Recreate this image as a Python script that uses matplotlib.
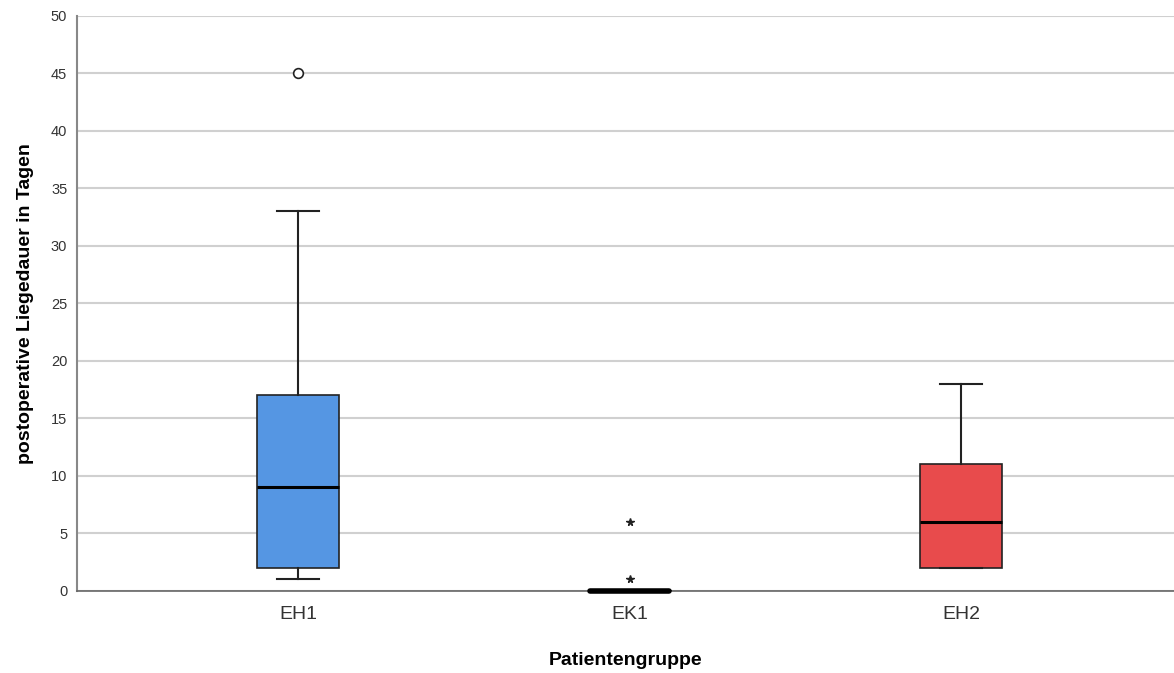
import numpy as np
import matplotlib.pyplot as plt

plt.rcParams['font.family'] = ['Liberation Sans', 'DejaVu Sans']

groups = ["EH1", "EK1", "EH2"]
whisker_low = [1, 0, 2]
q1 = [2, 0, 2]
medians = [9, 0, 6]
q3 = [17, 0, 11]
whisker_high = [33, 0, 18]
outliers = [[45], [], []]        # drawn as circles
extremes = [[], [1, 6], []]      # drawn as stars
box_colors = ["#5596e3", "#ffffff", "#e84b4c"]

stats = []
for i, g in enumerate(groups):
    stats.append(dict(label=g, whislo=whisker_low[i], q1=q1[i], med=medians[i],
                      q3=q3[i], whishi=whisker_high[i], fliers=[]))

fig = plt.figure(figsize=(11.74, 6.73), dpi=100)
ax = fig.add_axes([77 / 1174, 82 / 673, 1 - 77 / 1174, (591 - 15.7) / 673])

pos = np.arange(len(groups))
bp = ax.bxp(stats, positions=pos, widths=0.25, patch_artist=True, showfliers=False,
            boxprops=dict(edgecolor="#222222", linewidth=1.2),
            whiskerprops=dict(color="#222222", linewidth=1.5),
            capprops=dict(color="#222222", linewidth=1.5),
            medianprops=dict(color="black", linewidth=2.2),
            capwidths=0.125, zorder=3)
for patch, c in zip(bp['boxes'], box_colors):
    patch.set_facecolor(c)

# collapsed box for EK1 is just a thick bar at zero
ax.plot([pos[1] - 0.12, pos[1] + 0.12], [medians[1], medians[1]], color="black",
        linewidth=4, solid_capstyle="round", zorder=6, clip_on=False)

for i in range(len(groups)):
    if outliers[i]:
        ax.plot([pos[i]] * len(outliers[i]), outliers[i], linestyle="none", marker="o",
                markersize=7, markerfacecolor="white", markeredgecolor="#222222",
                markeredgewidth=1.2, zorder=4)
    if extremes[i]:
        ax.plot([pos[i]] * len(extremes[i]), extremes[i], linestyle="none", marker="*",
                markersize=5.5, color="#222222", zorder=4)

ax.set_xlim(-221 / 331.5, 2 + 213 / 331.5)
ax.set_ylim(0, 50)
ax.set_yticks(np.arange(0, 51, 5))
ax.yaxis.grid(True, color="#d0d0d0", linewidth=1.5)
ax.set_axisbelow(True)

for s in ["top", "right"]:
    ax.spines[s].set_visible(False)
ax.spines["left"].set_color("#888888")
ax.spines["bottom"].set_color("#666666")
ax.spines["left"].set_linewidth(1.5)
ax.spines["bottom"].set_linewidth(1.2)

ax.tick_params(axis="y", length=0, labelsize=10.5, labelcolor="#333333", pad=7)
ax.tick_params(axis="x", length=0, labelsize=14, labelcolor="#333333", pad=11)
ax.set_xticks(pos)
ax.set_xticklabels(groups)

ax.set_ylabel("postoperative Liegedauer in Tagen", fontsize=14, fontweight="bold", labelpad=12)
ax.set_xlabel("Patientengruppe", fontsize=14, fontweight="bold", labelpad=21)

fig.savefig("out.png", dpi=100)
